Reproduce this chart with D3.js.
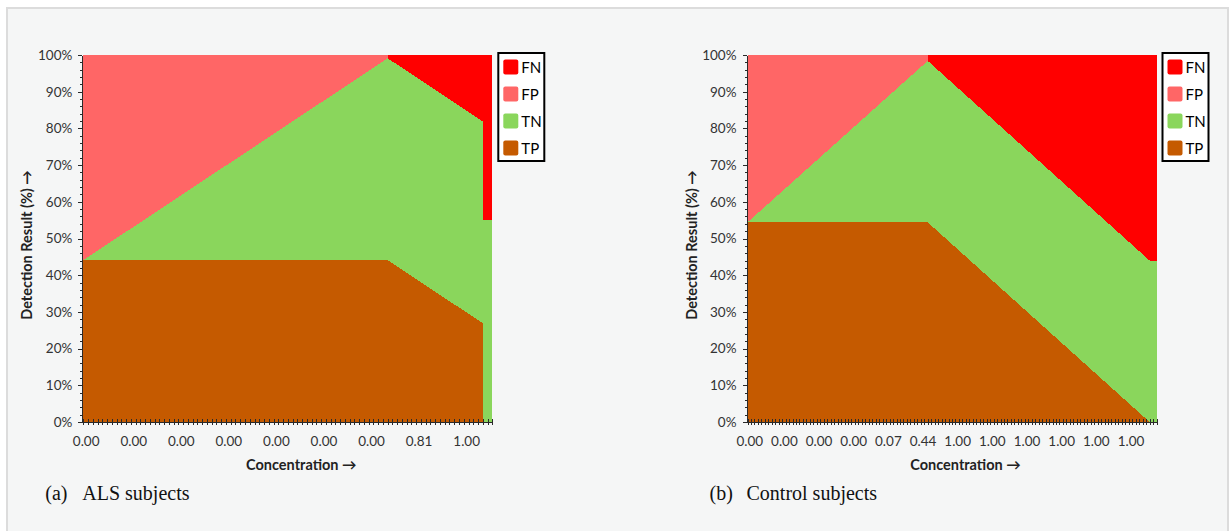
<!DOCTYPE html>
<html>
<head>
<meta charset="utf-8">
<script src="https://cdn.jsdelivr.net/npm/d3@7"></script>
<style>
  html, body { margin: 0; padding: 0; background: #ffffff; }
  svg { display: block; }
  .tick text { font-family: Lato, sans-serif; font-size: 13.5px; fill: #333; }
  .domain, .tick line { stroke: #2a2a2a; shape-rendering: crispEdges; }
</style>
</head>
<body>
<script>
// stacking order, bottom to top
var seriesKeys = ["TP", "TN", "FP", "FN"];
var legendKeys = ["FN", "FP", "TN", "TP"];
var colors = { FN: "#ff0000", FP: "#ff6666", TN: "#8ad65c", TP: "#c55a00" };

// (a) ALS subjects: breakpoints along the category axis (in category units), % values
var alsCount = 86;
var alsPos = [0, 64, 64, 84, 84, 86];
var alsTP = [44.1, 44.1, 44.1, 26.9, 0, 0];
var alsTN = [0, 55.0, 55.0, 55.0, 55.0, 55.0];
var alsFP = [55.9, 0.9, 0, 0, 0, 0];
var alsFN = [0, 0, 0.9, 18.1, 45.0, 45.0];
var alsLabels = ["0.00", "0.00", "0.00", "0.00", "0.00", "0.00", "0.00", "0.81", "1.00"];

// (b) Control subjects
var ctlCount = 118;
var ctlPos = [0, 52, 52, 116, 118];
var ctlTP = [54.4, 54.4, 54.4, 0, 0];
var ctlTN = [0, 44.0, 44.0, 44.0, 44.0];
var ctlFP = [45.6, 1.6, 0, 0, 0];
var ctlFN = [0, 0, 1.6, 56.0, 56.0];
var ctlLabels = ["0.00", "0.00", "0.00", "0.00", "0.07", "0.44", "1.00", "1.00", "1.00", "1.00", "1.00", "1.00"];

var labelEvery = 10;
var yTicks = d3.range(0, 101, 10);
var yMinor = d3.range(0, 101, 2);

var W = 1232, H = 531;
var svg = d3.select("body").append("svg").attr("width", W).attr("height", H);

// figure frame
svg.append("rect")
  .attr("x", 7).attr("y", 8).attr("width", 1221).attr("height", 530)
  .attr("fill", "#f5f6f6").attr("stroke", "#dcdcdc").attr("stroke-width", 2);

function panel(opt) {
  var x = d3.scaleLinear().domain([0, opt.count]).range([opt.left, opt.left + 409]);
  var y = d3.scaleLinear().domain([0, 100]).range([422, 55]);

  var rows = opt.pos.map(function(p, i) {
    return { pos: p, TP: opt.TP[i], TN: opt.TN[i], FP: opt.FP[i], FN: opt.FN[i] };
  });
  var stacked = d3.stack().keys(seriesKeys)(rows);

  var area = d3.area()
    .x(function(d) { return x(d.data.pos); })
    .y0(function(d) { return y(d[0]); })
    .y1(function(d) { return y(d[1]); });

  svg.append("g").selectAll("path")
    .data(stacked)
    .enter().append("path")
    .attr("d", area)
    .attr("fill", function(d) { return colors[d.key]; })
    .attr("shape-rendering", "crispEdges");

  // y axis: major and minor ticks
  svg.append("g")
    .attr("transform", "translate(" + (opt.left - 1) + ",0)")
    .call(d3.axisLeft(y).tickValues(yMinor).tickSize(2).tickFormat(""))
    .call(function(g) { g.select(".domain").remove(); });
  svg.append("g")
    .attr("transform", "translate(" + (opt.left - 1) + ",0)")
    .call(d3.axisLeft(y).tickValues(yTicks).tickSizeInner(4).tickSizeOuter(0)
      .tickPadding(6).tickFormat(function(d) { return d + "%"; }));

  // x axis: a tick at every category boundary, crossing the axis
  var xg = svg.append("g")
    .attr("transform", "translate(0,422)")
    .call(d3.axisBottom(x).tickValues(d3.range(opt.count + 1)).tickSizeOuter(0).tickFormat(""));
  xg.selectAll(".tick line").attr("y1", -3).attr("y2", 3);

  var labelPos = opt.labels.map(function(l, i) { return i * labelEvery + 0.5; });
  svg.append("g")
    .attr("transform", "translate(0,422)")
    .call(d3.axisBottom(x).tickValues(labelPos).tickSize(0).tickPadding(14)
      .tickFormat(function(d, i) { return opt.labels[i]; }))
    .call(function(g) { g.select(".domain").remove(); });

  // axis titles
  svg.append("text")
    .attr("x", opt.left + 218).attr("y", 470)
    .attr("text-anchor", "middle")
    .style("font-family", "Lato, sans-serif").style("font-size", "14.5px").style("font-weight", "bold")
    .attr("fill", "#222")
    .text("Concentration \u2192");
  svg.append("text")
    .attr("transform", "translate(" + (opt.left - 51) + ",245) rotate(-90)")
    .attr("text-anchor", "middle")
    .style("font-family", "Lato, sans-serif").style("font-size", "14.5px").style("font-weight", "bold")
    .attr("fill", "#222")
    .text("Detection Result (%) \u2192");

  // legend
  var lx = opt.left + 415, ly = 53;
  var lg = svg.append("g").attr("transform", "translate(" + lx + "," + ly + ")");
  lg.append("rect").attr("width", 46).attr("height", 108)
    .attr("fill", "#ffffff").attr("stroke", "#000").attr("stroke-width", 2);
  var item = lg.selectAll(".item").data(legendKeys).enter().append("g")
    .attr("transform", function(d, i) { return "translate(5," + (6.5 + i * 27) + ")"; });
  item.append("rect").attr("width", 15).attr("height", 15).attr("rx", 2)
    .attr("fill", function(d) { return colors[d]; });
  item.append("text").attr("x", 18).attr("y", 13.5)
    .style("font-family", "Lato, sans-serif").style("font-size", "15px")
    .attr("fill", "#000")
    .text(function(d) { return d; });

  // caption
  var cap = svg.append("text")
    .attr("x", opt.left - 38).attr("y", 500)
    .style("font-family", "'Liberation Serif', serif").style("font-size", "20px")
    .attr("fill", "#111");
  cap.append("tspan").text(opt.tag);
  cap.append("tspan").attr("x", opt.left - 1).text(opt.caption);
}

panel({ left: 83.3, count: alsCount, pos: alsPos, TP: alsTP, TN: alsTN, FP: alsFP, FN: alsFN,
        labels: alsLabels, tag: "(a)", caption: "ALS subjects" });
panel({ left: 747.5, count: ctlCount, pos: ctlPos, TP: ctlTP, TN: ctlTN, FP: ctlFP, FN: ctlFN,
        labels: ctlLabels, tag: "(b)", caption: "Control subjects" });
</script>
</body>
</html>
